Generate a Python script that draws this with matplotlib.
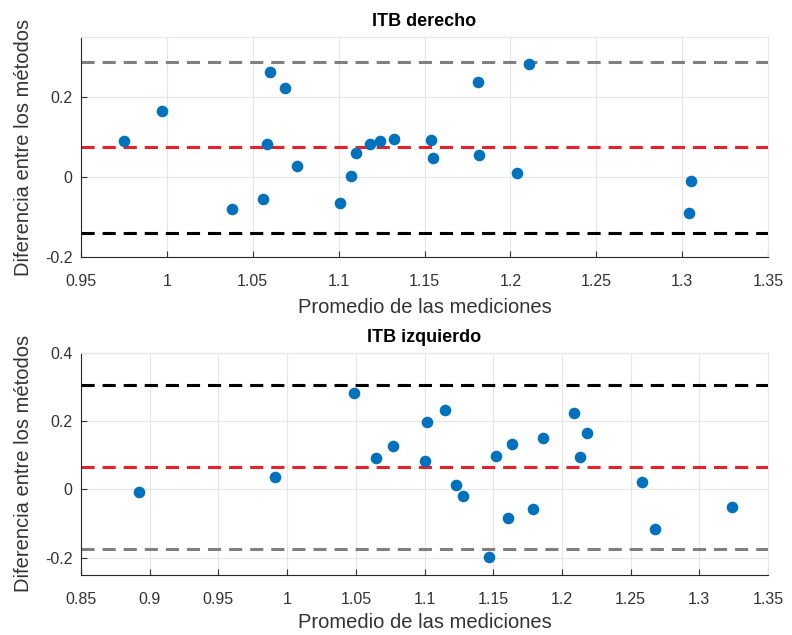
import matplotlib.pyplot as plt

plt.rcParams['font.family'] = ['Liberation Sans', 'DejaVu Sans']

# ITB derecho
x_der = [0.975, 0.997, 1.038, 1.056, 1.058, 1.060, 1.069, 1.076, 1.101, 1.107, 1.110,
         1.118, 1.124, 1.132, 1.154, 1.155, 1.181, 1.182, 1.204, 1.211, 1.305, 1.304]
y_der = [0.090, 0.165, -0.081, -0.056, 0.083, 0.262, 0.222, 0.028, -0.065, 0.002, 0.060,
         0.082, 0.090, 0.096, 0.092, 0.048, 0.238, 0.054, 0.010, 0.283, -0.011, -0.090]
media_der = 0.074
lim_der = [0.287, -0.139]

# ITB izquierdo
x_izq = [0.892, 0.991, 1.049, 1.065, 1.077, 1.102, 1.100, 1.115, 1.123, 1.128, 1.147,
         1.152, 1.161, 1.164, 1.179, 1.186, 1.209, 1.218, 1.213, 1.258, 1.268, 1.324]
y_izq = [-0.008, 0.036, 0.282, 0.092, 0.128, 0.197, 0.083, 0.233, 0.012, -0.018, -0.198,
         0.097, -0.083, 0.133, -0.058, 0.150, 0.223, 0.164, 0.096, 0.023, -0.115, -0.050]
media_izq = 0.066
lim_izq = [0.306, -0.174]

fig = plt.figure(figsize=(7.92, 6.35), dpi=100)
ax1 = fig.add_axes([0.1023, 0.5953, 0.8674, 0.3464])
ax2 = fig.add_axes([0.1023, 0.0945, 0.8674, 0.3501])


def bland_altman(ax, x, y, media, lims, titulo, xlim, ylim, xticks, yticks, colores, xlab_y):
    ax.set_axisbelow(True)
    ax.grid(True, color='#e6e6e6', linewidth=0.8)
    ax.axhline(lims[0], color=colores[0], linestyle=(0, (4.3, 2.6)), linewidth=2.2, zorder=2)
    ax.axhline(media, color='#e8202a', linestyle=(0, (4.3, 2.6)), linewidth=2.2, zorder=2)
    ax.axhline(lims[1], color=colores[1], linestyle=(0, (4.3, 2.6)), linewidth=2.2, zorder=2)
    ax.scatter(x, y, s=70, color='#0072BD', zorder=3, linewidths=0)
    ax.set_xlim(xlim)
    ax.set_ylim(ylim)
    ax.set_xticks(xticks)
    ax.set_xticklabels([('%g' % t) for t in xticks])
    ax.set_yticks(yticks)
    ax.set_yticklabels([('%g' % t) for t in yticks])
    ax.tick_params(direction='in', labelsize=11.5, colors='#333333', length=4)
    ax.tick_params(axis='x', pad=12)
    ax.tick_params(axis='y', pad=6)
    for s in ['top', 'right']:
        ax.spines[s].set_color('#e6e6e6')
    for s in ['left', 'bottom']:
        ax.spines[s].set_color('#262626')
    ax.set_title(titulo, fontsize=13, fontweight='bold', pad=8)
    ax.set_xlabel('Promedio de las mediciones', fontsize=14.5, color='#333333')
    ax.set_ylabel('Diferencia entre los métodos', fontsize=14.5, color='#333333')
    ax.xaxis.set_label_coords(0.5, xlab_y)
    ax.yaxis.set_label_coords(-0.07, 0.5)


bland_altman(ax1, x_der, y_der, media_der, lim_der, 'ITB derecho',
             (0.95, 1.35), (-0.2, 0.35),
             [0.95, 1, 1.05, 1.1, 1.15, 1.2, 1.25, 1.3, 1.35], [-0.2, 0, 0.2],
             ['#808080', '#000000'], -0.185)
bland_altman(ax2, x_izq, y_izq, media_izq, lim_izq, 'ITB izquierdo',
             (0.85, 1.35), (-0.25, 0.4),
             [0.85, 0.9, 0.95, 1, 1.05, 1.1, 1.15, 1.2, 1.25, 1.3, 1.35], [-0.2, 0, 0.2, 0.4],
             ['#000000', '#808080'], -0.17)

fig.savefig('out.png', dpi=100)
